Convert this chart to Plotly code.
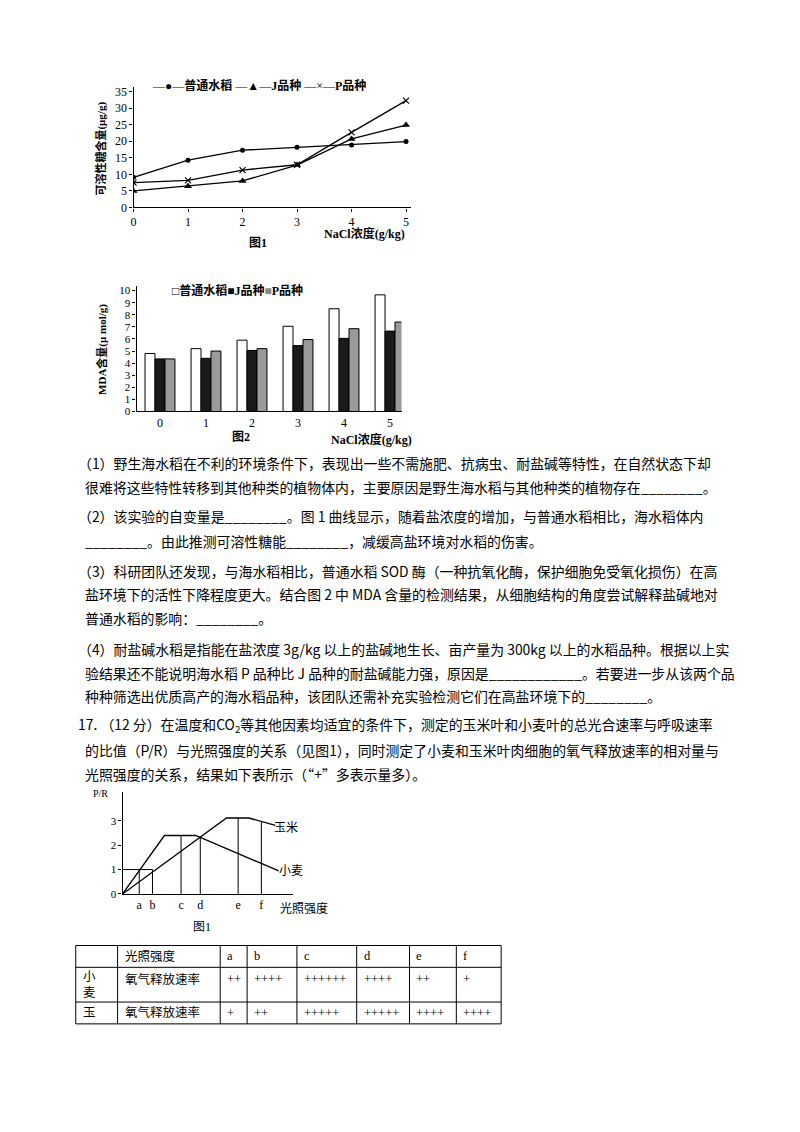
import numpy as np
import plotly.graph_objects as go

W, H = 800, 1132
OFF = 8  # page body margin in the browser
def px(x): return (x - OFF) / W
def py(y): return 1 - (y - OFF) / H

# ---------- data ----------
nacl = [0, 1, 2, 3, 4, 5]
sugar_normal = [9.1, 14.3, 17.3, 18.2, 18.9, 19.9]
sugar_j = [5.0, 6.4, 8.0, 12.8, 20.7, 24.9]
sugar_p = [7.5, 8.2, 11.3, 12.9, 22.7, 32.3]

mda_normal = [4.8, 5.2, 5.9, 7.05, 8.5, 9.65]
mda_j = [4.35, 4.4, 5.05, 5.45, 6.05, 6.65]
mda_p = [4.35, 5.0, 5.2, 5.95, 6.85, 7.4]

light_labels = ["a", "b", "c", "d", "e", "f"]
light_pos = [16.7, 30, 58.7, 78, 116, 139.3]
wheat_x = [0, 42, 73.3, 156.7]
wheat_y = [0, 2.4, 2.4, 0.95]
corn_x = [0, 104.3, 126.7, 153.3]
corn_y = [0, 3.12, 3.12, 2.82]

table_head = ["", "光照强度", "a", "b", "c", "d", "e", "f"]
table_wheat = ["小<br>麦", "氧气释放速率", "++", "++++", "++++++", "++++", "++", "+"]
table_corn = ["玉", "氧气释放速率", "+", "++", "+++++", "+++++", "++++", "++++"]

text_lines = [
    "（1）野生海水稻在不利的环境条件下，表现出一些不需施肥、抗病虫、耐盐碱等特性，在自然状态下却",
    "很难将这些特性转移到其他种类的植物体内，主要原因是野生海水稻与其他种类的植物存在________。",
    "（2）该实验的自变量是________。图 1 曲线显示，随着盐浓度的增加，与普通水稻相比，海水稻体内",
    "________。由此推测可溶性糖能________，减缓高盐环境对水稻的伤害。",
    "（3）科研团队还发现，与海水稻相比，普通水稻 SOD 酶（一种抗氧化酶，保护细胞免受氧化损伤）在高",
    "盐环境下的活性下降程度更大。结合图 2 中 MDA 含量的检测结果，从细胞结构的角度尝试解释盐碱地对",
    "普通水稻的影响：________。",
    "（4）耐盐碱水稻是指能在盐浓度 3g/kg 以上的盐碱地生长、亩产量为 300kg 以上的水稻品种。根据以上实",
    "验结果还不能说明海水稻 P 品种比 J 品种的耐盐碱能力强，原因是____________。若要进一步从该两个品",
    "种种筛选出优质高产的海水稻品种，该团队还需补充实验检测它们在高盐环境下的________。",
    "17. （12 分）在温度和CO<sub>2</sub>等其他因素均适宜的条件下，测定的玉米叶和小麦叶的总光合速率与呼吸速率",
    "的比值（P/R）与光照强度的关系（见图1），同时测定了小麦和玉米叶肉细胞的氧气释放速率的相对量与",
    "光照强度的关系，结果如下表所示（“+”多表示量多）。",
]
text_y = [465, 489, 518, 543, 573, 597, 621, 652, 676, 700, 729, 754, 778]

FONT = "Liberation Serif, Noto Sans CJK SC"
CJK = "Noto Sans CJK SC"

fig = go.Figure()

# ---------- figure 1: soluble sugar ----------
fig.add_trace(go.Scatter(x=nacl, y=sugar_normal, name="普通水稻", mode="lines+markers",
                         line=dict(color="black", width=1.3), marker=dict(symbol="circle", size=5, color="black"),
                         xaxis="x", yaxis="y"))
fig.add_trace(go.Scatter(x=nacl, y=sugar_j, name="J品种", mode="lines+markers",
                         line=dict(color="black", width=1.3), marker=dict(symbol="triangle-up", size=7, color="black"),
                         xaxis="x", yaxis="y"))
fig.add_trace(go.Scatter(x=nacl, y=sugar_p, name="P品种", mode="lines+markers",
                         line=dict(color="black", width=1.3), marker=dict(symbol="x-thin", size=6, line=dict(width=1.2, color="black")),
                         xaxis="x", yaxis="y"))

# ---------- figure 2: MDA ----------
fig.add_trace(go.Bar(x=nacl, y=mda_normal, name="普通水稻", marker=dict(color="white", line=dict(color="black", width=1)),
                     xaxis="x2", yaxis="y2"))
fig.add_trace(go.Bar(x=nacl, y=mda_j, name="J品种", marker=dict(color="#1a1a1a", line=dict(color="black", width=1)),
                     xaxis="x2", yaxis="y2"))
fig.add_trace(go.Bar(x=nacl, y=mda_p, name="P品种", marker=dict(color="#9a9a9a", line=dict(color="black", width=1)),
                     xaxis="x2", yaxis="y2"))

# ---------- figure 3: P/R ----------
fig.add_trace(go.Scatter(x=wheat_x, y=wheat_y, mode="lines", line=dict(color="black", width=1.3),
                         xaxis="x3", yaxis="y3"))
fig.add_trace(go.Scatter(x=corn_x, y=corn_y, mode="lines", line=dict(color="black", width=1.3),
                         xaxis="x3", yaxis="y3"))
# drop lines from each light level up to the curves
drop_x, drop_y = [], []
for i, xv in enumerate(light_pos):
    if i < 2:
        top = 1.0
    elif i == 3:
        top = np.interp(xv, corn_x, corn_y)
    else:
        top = max(np.interp(xv, wheat_x, wheat_y), np.interp(xv, corn_x, corn_y))
    drop_x += [xv, xv, None]
    drop_y += [0, top, None]
drop_x += [0, light_pos[1], None]
drop_y += [1, 1, None]
fig.add_trace(go.Scatter(x=drop_x, y=drop_y, mode="lines", line=dict(color="black", width=1),
                         xaxis="x3", yaxis="y3"))

axis_common = dict(showline=True, linecolor="black", linewidth=1.2, showgrid=False, zeroline=False,
                   ticks="outside", ticklen=3, tickcolor="black", tickfont=dict(size=12, family=FONT, color="black"))

fig.update_layout(
    width=W, height=H, margin=dict(l=0, r=0, t=0, b=0),
    paper_bgcolor="white", plot_bgcolor="white", showlegend=False,
    font=dict(family=FONT, color="black"),
    barmode="group", bargap=0.35, bargroupgap=0,
    xaxis=dict(axis_common, domain=[px(131), px(410)], range=[0, 5.1], tickvals=nacl, anchor="y"),
    yaxis=dict(axis_common, domain=[py(207), py(86)], range=[0, 36.3], tickvals=list(range(0, 40, 5)), anchor="x"),
    xaxis2=dict(axis_common, domain=[px(134), px(400)], range=[-0.51, 5.25], tickvals=nacl, ticks="", anchor="y2"),
    yaxis2=dict(axis_common, domain=[py(412.7), py(286)], range=[0, 10.4], tickvals=list(range(0, 11)), anchor="x2",
                tickfont=dict(size=11, family=FONT, color="black")),
    xaxis3=dict(axis_common, domain=[px(120), px(291)], range=[0, 171], tickvals=light_pos, ticktext=light_labels,
                ticks="", anchor="y3"),
    yaxis3=dict(axis_common, domain=[py(899), py(796)], range=[0, 4.2], tickvals=[0, 1, 2, 3], anchor="x3",
                tickfont=dict(size=11, family=FONT, color="black")),
)

ann = []
def note(x, y, t, size=12, angle=0, xanchor="center", family=FONT):
    ann.append(dict(x=px(x), y=py(y), xref="paper", yref="paper", text=t, showarrow=False,
                    font=dict(size=size, family=family, color="black"), textangle=angle, xanchor=xanchor, yanchor="middle"))

note(148, 84, "—●—<b>普通水稻</b> —▲—<b>J品种</b> —×—<b>P品种</b>", 12, xanchor="left")
note(98, 148, "<b>可溶性糖含量(μg/g)</b>", 11, -90)
note(363, 233, "<b>NaCl浓度(g/kg)</b>", 12)
note(256, 243, "<b>图1</b>", 12)
note(168, 291, "□<b>普通水稻</b>■<b>J品种</b><span style='color:#888'>■</span><b>P品种</b>", 12, xanchor="left")
note(100, 350, "<b>MDA含量(μ mol/g)</b>", 11, -90)
note(370, 441, "<b>NaCl浓度(g/kg)</b>", 12)
note(239, 438, "<b>图2</b>", 12)
note(98, 798, "P/R", 10)
note(270, 833, "玉米", 12, xanchor="left")
note(275, 876, "小麦", 12, xanchor="left")
note(302, 914, "光照强度", 12)
note(200, 932, "图1", 12)

for t, y in zip(text_lines, text_y):
    note(73 if t.startswith("（") or t.startswith("17") else 80, y, t, 13.9, xanchor="left", family=CJK)

# ---------- table ----------
col_x = [73, 115, 218, 245, 295, 355, 408, 455, 500]
row_y = [951, 973, 1008, 1030]
shapes = []
for xv in col_x:
    shapes.append(dict(type="line", xref="paper", yref="paper", x0=px(xv), x1=px(xv), y0=py(row_y[0]), y1=py(row_y[-1]),
                       line=dict(color="black", width=1)))
for yv in row_y:
    shapes.append(dict(type="line", xref="paper", yref="paper", x0=px(col_x[0]), x1=px(col_x[-1]), y0=py(yv), y1=py(yv),
                       line=dict(color="black", width=1)))
for r, row in enumerate([table_head, table_wheat, table_corn]):
    yc = (row_y[r] + row_y[r + 1]) / 2 if r != 1 else row_y[1] + 12
    for c, cell in enumerate(row):
        if not cell:
            continue
        yy = (row_y[1] + row_y[2]) / 2 if (r == 1 and c == 0) else yc
        note(col_x[c] + 5, yy, cell, 12.5, xanchor="left", family=FONT)

fig.update_layout(annotations=ann, shapes=shapes)
fig.write_html("out.html")
